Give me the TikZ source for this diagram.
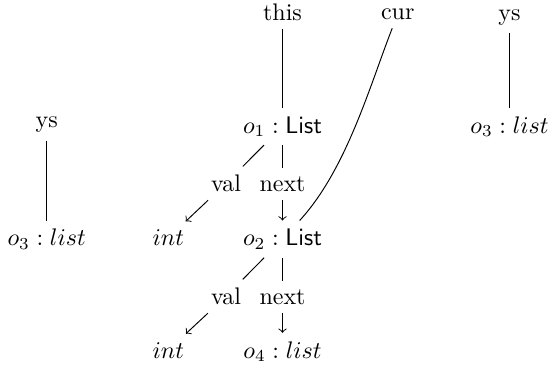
\documentclass[tikz,border=0pt]{standalone}
\begin{document}
\begin{tikzpicture}[x=0.41667pt,y=-0.41667pt,
  lbl/.style={anchor=base},
  link/.style={draw},
  ptr/.style={draw,->}]
\useasboundingbox (0,0) rectangle (548,369);

% variables
\node[lbl] (this) at (282.5,20) {this};
\node[lbl] (cur)  at (397.7,19.5) {cur};
\node[lbl] (ysR)  at (509.5,20) {ys};
\node[lbl] (ysL)  at (46.7,127.5) {ys};

% objects
\node[lbl] (o1)  at (282.5,133)   {$o_1 : \mathsf{List}$};
\node[lbl] (o3R) at (509.5,133)   {$o_3 : list$};
\node[lbl] (o2)  at (282.5,245.7) {$o_2 : \mathsf{List}$};
\node[lbl] (o3L) at (46.7,245.7)  {$o_3 : list$};
\node[lbl] (o4)  at (282.5,358)   {$o_4 : list$};
\node[lbl] (int1) at (168.3,245.7) {$int$};
\node[lbl] (int2) at (168.3,358)   {$int$};

% field names
\node[lbl] (val1)  at (226,191.5)   {val};
\node[lbl] (next1) at (282.5,191.5) {next};
\node[lbl] (val2)  at (226,304.5)   {val};
\node[lbl] (next2) at (282.5,304.5) {next};

% references
\draw[link] (this) -- (o1);
\draw[link] (ysR) -- (o3R);
\draw[link] (ysL) -- (o3L);
\draw[link] (cur) .. controls (370,85) and (346.7,169.3) .. (o2);

\draw[link] (o1) -- (val1);
\draw[ptr]  (val1) -- (int1);
\draw[link] (o1) -- (next1);
\draw[ptr]  (next1) -- (o2);

\draw[link] (o2) -- (val2);
\draw[ptr]  (val2) -- (int2);
\draw[link] (o2) -- (next2);
\draw[ptr]  (next2) -- (o4);
\end{tikzpicture}
\end{document}
